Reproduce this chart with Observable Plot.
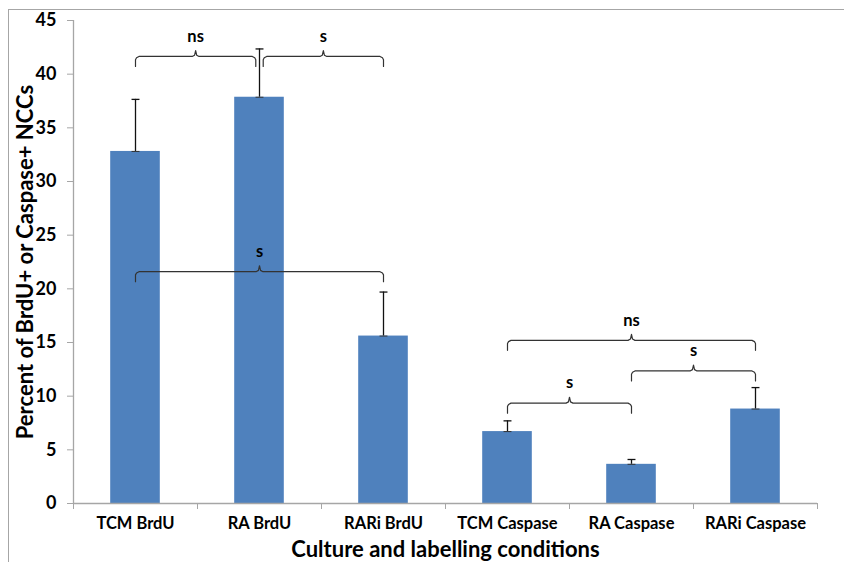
<!DOCTYPE html>
<html>
<head>
<meta charset="utf-8">
<script src="https://cdn.jsdelivr.net/npm/d3@7"></script>
<script src="https://cdn.jsdelivr.net/npm/@observablehq/plot@0.6"></script>
<style>
  html, body { margin: 0; padding: 0; background: #fff; }
  #wrap { position: relative; width: 844px; height: 562px; overflow: hidden; }
  #frame { position: absolute; left: 8px; top: 9px; width: 900px; height: 600px;
           border-top: 1.5px solid #a6a6a6; border-left: 1.5px solid #a6a6a6; pointer-events: none; }
  svg { font-family: Lato, "Open Sans", sans-serif; }
</style>
</head>
<body>
<div id="wrap"><div id="frame"></div></div>
<script>
// ---- data ----
const categories = ["TCM BrdU", "RA BrdU", "RARi BrdU", "TCM Caspase", "RA Caspase", "RARi Caspase"];
const values = [32.8, 37.85, 15.6, 6.7, 3.65, 8.8];
const errors = [4.85, 4.5, 4.1, 1.0, 0.45, 2.0];
const yTicks = [0, 5, 10, 15, 20, 25, 30, 35, 40, 45];

// significance brackets (category index from/to, level in y units, label)
const bracketFrom = [0, 1, 0, 3, 4, 3];
const bracketTo = [1, 2, 2, 5, 5, 4];
const bracketLevels = [41.65, 41.65, 21.6, 15.2, 12.35, 9.35];
const bracketLabels = ["ns", "s", "s", "ns", "s", "s"];

const yTitle = "Percent of BrdU+ or Caspase+ NCCs";
const xTitle = "Culture and labelling conditions";

// ---- build tables ----
const bars = categories.map((c, i) => ({i, c, v: values[i], e: errors[i]}));

const hook = 0.93;   // downward hook length (y units)
const cusp = 0.55;   // upward cusp height
const r = 0.028;     // corner size (x units)
const bracketPts = [];
const bracketText = [];
bracketFrom.forEach((f, k) => {
  let a = f + 0.5, b = bracketTo[k] + 0.5;
  const L = bracketLevels[k];
  // inset endpoints shared with another bracket at the same level
  bracketFrom.forEach((f2, k2) => {
    if (k2 !== k && bracketLevels[k2] === L) {
      if (bracketTo[k2] === f) a += 0.03;
      if (f2 === bracketTo[k]) b -= 0.03;
    }
  });
  const m = (a + b) / 2;
  const pts = [
    [a, L - hook], [a, L - 0.3], [a + r * 0.3, L - 0.12], [a + r, L],
    [m - r, L], [m - r * 0.3, L + 0.12], [m, L + cusp],
    [m + r * 0.3, L + 0.12], [m + r, L],
    [b - r, L], [b - r * 0.3, L - 0.12], [b, L - 0.3], [b, L - hook]
  ];
  pts.forEach(([x, y]) => bracketPts.push({k, x, y}));
  bracketText.push({x: m, y: L, t: bracketLabels[k]});
});

const capW = 0.032;

const chart = Plot.plot({
  width: 844,
  height: 562,
  marginLeft: 73,
  marginRight: 27,
  marginTop: 20,
  marginBottom: 59,
  style: {fontFamily: "Lato, 'Open Sans', sans-serif", fontWeight: "bold", background: "transparent"},
  x: {domain: [0, categories.length], axis: null},
  y: {domain: [0, 45], axis: null},
  marks: [
    Plot.rectY(bars, {x1: d => d.i + 0.3, x2: d => d.i + 0.7, y1: 0, y2: "v", fill: "#4f81bd"}),
    // axes
    Plot.ruleY([0], {stroke: "#a6a6a6", strokeWidth: 1.3}),
    Plot.ruleX([0], {stroke: "#a6a6a6", strokeWidth: 1.3}),
    Plot.axisY({ticks: yTicks, tickSize: 6, tickPadding: 11, stroke: "#a6a6a6", fill: "black",
                fontSize: 18, fontWeight: "bold", label: null}),
    Plot.axisX({ticks: d3.range(0, categories.length + 1), tickSize: 6, text: null, stroke: "#a6a6a6", label: null}),
    Plot.axisX({ticks: categories.map((c, i) => i + 0.5), tickFormat: t => categories[Math.round(t - 0.5)],
                tickSize: 0, tickPadding: 14, fill: "black", fontSize: 16.5, fontWeight: "bold", label: null}),
    // error bars
    Plot.ruleX(bars, {x: d => d.i + 0.5, y1: "v", y2: d => d.v + d.e, stroke: "#111", strokeWidth: 1.3}),
    Plot.link(bars, {x1: d => d.i + 0.5 - capW, x2: d => d.i + 0.5 + capW, y1: d => d.v + d.e, y2: d => d.v + d.e, stroke: "#111", strokeWidth: 1.3}),
    Plot.link(bars, {x1: d => d.i + 0.5 - capW, x2: d => d.i + 0.5 + capW, y1: "v", y2: "v", stroke: "#333", strokeWidth: 1}),
    // brackets
    Plot.line(bracketPts, {x: "x", y: "y", z: "k", stroke: "#333", strokeWidth: 1.2}),
    Plot.text(bracketText, {x: "x", y: "y", text: "t", dy: -20, fontSize: 16.5, fontWeight: "bold", fill: "black"}),
    // titles
    Plot.text([xTitle], {text: d => d, frameAnchor: "bottom", textAnchor: "middle", lineAnchor: "middle",
                         dy: 46, fontSize: 22, fontWeight: "bold", fill: "black"}),
    Plot.text([yTitle], {text: d => d, frameAnchor: "left", textAnchor: "middle", lineAnchor: "middle",
                         rotate: -90, dx: -48, fontSize: 22, fontWeight: "bold", fill: "black"})
  ]
});
chart.style.position = "absolute";
chart.style.left = "0px";
chart.style.top = "0px";
document.getElementById("wrap").appendChild(chart);
</script>
</body>
</html>
